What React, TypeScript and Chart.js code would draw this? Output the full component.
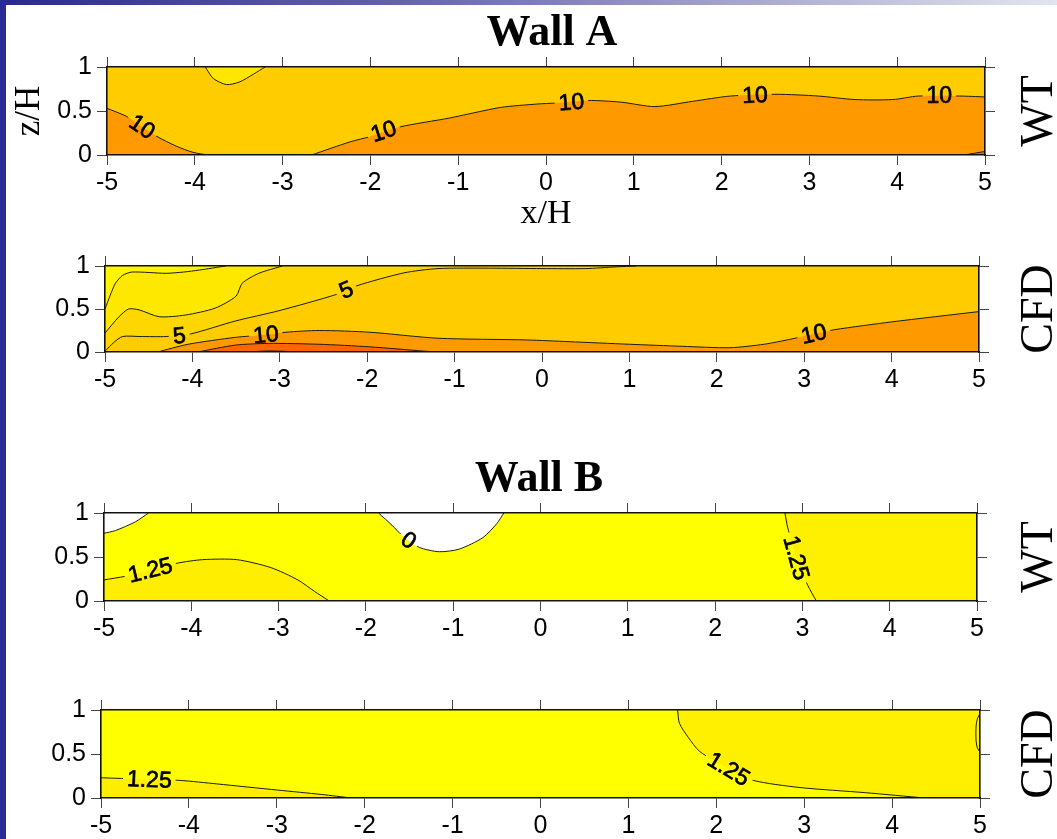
import React, { useEffect, useRef } from 'react';
import { Chart, registerables } from 'chart.js';

Chart.register(...registerables);

type XY = [number, number];
type Tag = { x: number; z: number; text: string };

const PAGE_W = 1057;
const PAGE_H = 839;

const xTickValues = [-5, -4, -3, -2, -1, 0, 1, 2, 3, 4, 5];
const zTickValues = [0, 0.5, 1];
const zTickLabels = ['0', '0.5', '1'];

// whole panel (top edge), used as the base colour layer
const fullPanel: XY[] = [[-5, 1], [5, 1]];

// ---------- Wall A, wind tunnel ----------
const aWtLeft10: XY[] = [[-5, 0.53], [-4.78, 0.44], [-4.6, 0.32], [-4.43, 0.21], [-4.21, 0.1], [-4.02, 0.03], [-3.85, 0]];
const aWtRight10: XY[] = [
  [-2.67, 0], [-2.23, 0.15], [-2.0, 0.21], [-1.66, 0.32], [-1.1, 0.42], [-0.52, 0.54], [-0.09, 0.58],
  [0.1, 0.59], [0.48, 0.62], [0.86, 0.6], [1.24, 0.55], [1.67, 0.61], [2.1, 0.67], [2.62, 0.69],
  [3.1, 0.67], [3.52, 0.63], [3.95, 0.63], [4.24, 0.67], [4.71, 0.67], [5, 0.66],
];
const aWtPatch: XY[] = [[-3.88, 1], [-3.79, 0.87], [-3.64, 0.8], [-3.49, 0.83], [-3.33, 0.92], [-3.2, 1]];
const aWtCorner: XY[] = [[4.76, 0], [5, 0.04]];
const aWtLeftTags: Tag[] = [{ x: -4.6, z: 0.32, text: '10' }];
const aWtRightTags: Tag[] = [
  { x: -1.85, z: 0.27, text: '10' },
  { x: 0.29, z: 0.6, text: '10' },
  { x: 2.38, z: 0.68, text: '10' },
  { x: 4.48, z: 0.67, text: '10' },
];

// ---------- Wall A, CFD ----------
const aCfdA: XY[] = [[-5, 0.5], [-4.94, 0.66], [-4.88, 0.8], [-4.8, 0.89], [-4.69, 0.93], [-4.3, 0.915], [-4.1, 0.93], [-3.92, 0.953], [-3.62, 1]];
const aCfdB: XY[] = [[-5, 0.22], [-4.84, 0.41], [-4.73, 0.5], [-4.61, 0.49], [-4.38, 0.41], [-4.08, 0.43], [-3.74, 0.51], [-3.5, 0.65], [-3.43, 0.8], [-3.24, 0.915], [-2.97, 1]];
const aCfd5: XY[] = [
  [-5, 0.01], [-4.9, 0.11], [-4.8, 0.18], [-4.6, 0.18], [-4.3, 0.18], [-4.02, 0.21], [-3.51, 0.36],
  [-3.01, 0.48], [-2.35, 0.67], [-2.12, 0.77], [-1.58, 0.92], [-1.19, 0.97], [-0.6, 0.975], [0, 0.97],
  [0.5, 0.97], [0.85, 0.99], [1.08, 1],
];
const aCfd10: XY[] = [
  [-4.4, 0], [-4.05, 0.09], [-3.51, 0.17], [-3.16, 0.2], [-2.93, 0.23], [-2.55, 0.25], [-1.97, 0.23],
  [-1.19, 0.16], [-0.17, 0.14], [0.31, 0.12], [1, 0.09], [1.61, 0.066], [2.15, 0.05], [2.54, 0.09],
  [2.85, 0.15], [3.11, 0.21], [3.35, 0.26], [4, 0.35], [5, 0.47],
];
const aCfd15: XY[] = [[-3.94, 0], [-3.51, 0.08], [-3.13, 0.1], [-2.55, 0.09], [-1.97, 0.06], [-1.35, 0.01], [-1.2, 0]];
const aCfd20: XY[] = [[-3.4, 0], [-3.1, 0.012], [-2.75, 0]];
const aCfd5Tags: Tag[] = [{ x: -4.15, z: 0.19, text: '5' }, { x: -2.24, z: 0.72, text: '5' }];
const aCfd10Tags: Tag[] = [{ x: -3.16, z: 0.2, text: '10' }, { x: 3.11, z: 0.21, text: '10' }];

// ---------- Wall B, wind tunnel ----------
const bWtCorner0: XY[] = [[-5, 0.77], [-4.87, 0.8], [-4.64, 0.9], [-4.49, 1]];
const bWtBowl0: XY[] = [[-1.855, 1], [-1.7, 0.86], [-1.58, 0.74], [-1.39, 0.61], [-1.16, 0.56], [-0.93, 0.59], [-0.66, 0.72], [-0.5, 0.88], [-0.42, 1]];
const bWtLeft125: XY[] = [[-5, 0.24], [-4.76, 0.28], [-4.47, 0.35], [-4.16, 0.43], [-3.87, 0.47], [-3.48, 0.47], [-3.09, 0.38], [-2.78, 0.24], [-2.59, 0.11], [-2.42, 0]];
const bWtRight125: XY[] = [[2.8, 1], [2.83, 0.84], [2.88, 0.67], [2.93, 0.49], [3.0, 0.33], [3.06, 0.18], [3.16, 0]];
const bWtBowlTags: Tag[] = [{ x: -1.51, z: 0.69, text: '0' }];
const bWtLeftTags: Tag[] = [{ x: -4.47, z: 0.35, text: '1.25' }];
const bWtRightTags: Tag[] = [{ x: 2.93, z: 0.49, text: '1.25' }];

// ---------- Wall B, CFD ----------
const bCfdLeft125: XY[] = [[-5, 0.23], [-4.7, 0.22], [-4.45, 0.21], [-4.1, 0.2], [-3.68, 0.16], [-2.99, 0.09], [-2.49, 0.04], [-2.15, 0]];
const bCfdRight125: XY[] = [[1.56, 1], [1.58, 0.85], [1.68, 0.69], [1.81, 0.53], [2.14, 0.33], [2.42, 0.2], [2.94, 0.12], [3.7, 0.06], [4.37, 0]];
const bCfdEdge: XY[] = [[5, 0.96], [4.97, 0.9], [4.955, 0.81], [4.955, 0.66], [4.97, 0.57], [5, 0.52]];
const bCfdLeftTags: Tag[] = [{ x: -4.45, z: 0.21, text: '1.25' }];
const bCfdRightTags: Tag[] = [{ x: 2.14, z: 0.33, text: '1.25' }];

const bottomRight: XY[] = [[5, 0]];

type Layer = { pts: XY[]; color: string; to: 'origin' | 'end' };
type Contour = { pts: XY[]; tags?: Tag[] };
type Panel = {
  area: { left: number; top: number; right: number; bottom: number };
  layers: Layer[]; // painted first to last
  contours: Contour[];
  title?: string;
  titleX?: number;
  side: string;
  zTitle?: boolean;
  xTitle?: boolean;
};

const panels: Panel[] = [
  {
    area: { left: 107, top: 67, right: 985, bottom: 155 },
    layers: [
      { pts: fullPanel, color: '#FFCC00', to: 'origin' },
      { pts: aWtPatch, color: '#FFE600', to: 'end' },
      { pts: aWtLeft10, color: '#FF9900', to: 'origin' },
      { pts: aWtRight10, color: '#FF9900', to: 'origin' },
      { pts: aWtCorner, color: '#FF6600', to: 'origin' },
    ],
    contours: [
      { pts: aWtLeft10, tags: aWtLeftTags },
      { pts: aWtRight10, tags: aWtRightTags },
      { pts: aWtPatch },
      { pts: aWtCorner },
    ],
    title: 'Wall A',
    titleX: 552,
    side: 'WT',
    zTitle: true,
    xTitle: true,
  },
  {
    area: { left: 105, top: 266, right: 979, bottom: 352 },
    layers: [
      { pts: fullPanel, color: '#FFCC00', to: 'origin' },
      { pts: aCfd5, color: '#FFD700', to: 'end' },
      { pts: aCfdB, color: '#FFE800', to: 'end' },
      { pts: aCfdA, color: '#FFF500', to: 'end' },
      { pts: aCfd10, color: '#FF9900', to: 'origin' },
      { pts: aCfd15, color: '#FF6600', to: 'origin' },
      { pts: aCfd20, color: '#FF3300', to: 'origin' },
    ],
    contours: [
      { pts: aCfdA },
      { pts: aCfdB },
      { pts: aCfd5, tags: aCfd5Tags },
      { pts: aCfd10, tags: aCfd10Tags },
      { pts: aCfd15 },
      { pts: aCfd20 },
    ],
    side: 'CFD',
  },
  {
    area: { left: 104, top: 513, right: 977, bottom: 601 },
    layers: [
      { pts: fullPanel, color: '#FFFF00', to: 'origin' },
      { pts: bWtLeft125, color: '#FFEE00', to: 'origin' },
      { pts: [...bWtRight125, ...bottomRight], color: '#FFF000', to: 'end' },
      { pts: bWtCorner0, color: '#FFFFFF', to: 'end' },
      { pts: bWtBowl0, color: '#FFFFFF', to: 'end' },
    ],
    contours: [
      { pts: bWtCorner0 },
      { pts: bWtBowl0, tags: bWtBowlTags },
      { pts: bWtLeft125, tags: bWtLeftTags },
      { pts: bWtRight125, tags: bWtRightTags },
    ],
    title: 'Wall B',
    titleX: 539,
    side: 'WT',
  },
  {
    area: { left: 101, top: 710, right: 980, bottom: 798 },
    layers: [
      { pts: fullPanel, color: '#FFFF00', to: 'origin' },
      { pts: bCfdLeft125, color: '#FFEE00', to: 'origin' },
      { pts: [...bCfdRight125, ...bottomRight], color: '#FFF000', to: 'end' },
    ],
    contours: [
      { pts: bCfdLeft125, tags: bCfdLeftTags },
      { pts: bCfdRight125, tags: bCfdRightTags },
      { pts: bCfdEdge },
    ],
    side: 'CFD',
  },
];

const TAG_FONT = '23px "Liberation Sans", Arial, sans-serif';
const TENSION = 0.25;
const LEFT_AXIS_W = 70;
const RIGHT_AXIS_W = 10;
const TOP_AXIS_H = 10;
const BOTTOM_AXIS_H = 38;

const toPoints = (a: XY[]) => a.map(([x, y]) => ({ x, y }));

function tagGeometry(chart: any, ds: any, t: Tag) {
  const xs = chart.scales.x;
  const ys = chart.scales.y;
  const px = xs.getPixelForValue(t.x);
  const py = ys.getPixelForValue(t.z);
  const pts = ds.data.map((p: any) => [xs.getPixelForValue(p.x), ys.getPixelForValue(p.y)]);
  let best = Infinity;
  let angle = 0;
  for (let i = 0; i < pts.length - 1; i++) {
    const [x1, y1] = pts[i];
    const [x2, y2] = pts[i + 1];
    const dx = x2 - x1;
    const dy = y2 - y1;
    const len2 = dx * dx + dy * dy || 1;
    const u = Math.max(0, Math.min(1, ((px - x1) * dx + (py - y1) * dy) / len2));
    const cx = x1 + u * dx;
    const cy = y1 + u * dy;
    const d = (px - cx) ** 2 + (py - cy) ** 2;
    if (d < best) {
      best = d;
      angle = Math.atan2(dy, dx);
    }
  }
  if (angle > Math.PI / 2) angle -= Math.PI;
  if (angle < -Math.PI / 2) angle += Math.PI;
  return { px, py, angle };
}

// Cuts a gap in each labelled contour and writes the level value into it
const contourTags = {
  id: 'contourTags',
  beforeDatasetDraw(chart: any, args: any) {
    const ds = chart.data.datasets[args.index];
    const tags: Tag[] | undefined = ds.contourTags;
    if (!tags || !tags.length) return;
    const ctx = chart.ctx;
    ctx.save();
    ctx.font = TAG_FONT;
    ctx.beginPath();
    ctx.rect(0, 0, chart.width, chart.height);
    for (const t of tags) {
      const g = tagGeometry(chart, ds, t);
      const hw = ctx.measureText(t.text).width / 2 + 4;
      const hh = 9;
      const c = Math.cos(g.angle);
      const s = Math.sin(g.angle);
      const corners = [[-hw, -hh], [hw, -hh], [hw, hh], [-hw, hh]].map(([u, v]) => [g.px + u * c - v * s, g.py + u * s + v * c]);
      ctx.moveTo(corners[0][0], corners[0][1]);
      for (let i = 1; i < 4; i++) ctx.lineTo(corners[i][0], corners[i][1]);
      ctx.closePath();
    }
    ctx.clip('evenodd');
  },
  afterDatasetDraw(chart: any, args: any) {
    const ds = chart.data.datasets[args.index];
    if (ds.contourTags && ds.contourTags.length) chart.ctx.restore();
  },
  afterDatasetsDraw(chart: any) {
    const ctx = chart.ctx;
    for (const ds of chart.data.datasets) {
      const tags: Tag[] | undefined = ds.contourTags;
      if (!tags) continue;
      for (const t of tags) {
        const g = tagGeometry(chart, ds, t);
        ctx.save();
        ctx.translate(g.px, g.py);
        ctx.rotate(g.angle);
        ctx.font = TAG_FONT;
        ctx.fillStyle = '#000';
        ctx.strokeStyle = '#000';
        ctx.lineWidth = 0.7;
        ctx.textAlign = 'center';
        ctx.textBaseline = 'middle';
        ctx.fillText(t.text, 0, 1);
        ctx.strokeText(t.text, 0, 1);
        ctx.restore();
      }
    }
  },
};

// Panel title, right-hand row label and axis titles
const panelText = {
  id: 'panelText',
  afterDraw(chart: any, _args: any, o: any) {
    const { ctx, chartArea: a } = chart;
    const midY = (a.top + a.bottom) / 2;
    ctx.save();
    ctx.fillStyle = '#000';
    ctx.textAlign = 'center';
    ctx.textBaseline = 'alphabetic';
    if (o.title) {
      ctx.font = 'bold 44px "Liberation Serif", "Times New Roman", serif';
      ctx.fillText(o.title, o.titleX, a.top - 22);
    }
    if (o.xTitle) {
      ctx.font = '34px "Liberation Serif", "Times New Roman", serif';
      ctx.fillText('x/H', (a.left + a.right) / 2, a.bottom + 68);
    }
    const rotated = (text: string, x: number, font: string) => {
      ctx.save();
      ctx.translate(x, midY);
      ctx.rotate(-Math.PI / 2);
      ctx.font = font;
      ctx.fillText(text, 0, 0);
      ctx.restore();
    };
    if (o.zTitle) rotated('z/H', 39, '35px "Liberation Serif", "Times New Roman", serif');
    if (o.side) rotated(o.side, 1052, '46px "Liberation Serif", "Times New Roman", serif');
    ctx.restore();
  },
};

function buildConfig(p: Panel): any {
  const grid = { display: true, drawOnChartArea: false, drawTicks: true, tickLength: 10, tickColor: '#444', tickWidth: 1 };
  const border = { display: true, color: '#111', width: 1.6, z: 1 };
  const tickFont = { family: '"Liberation Sans", Arial, sans-serif', size: 25 };
  const xTicks = (s: any) => { s.ticks = xTickValues.map((v) => ({ value: v })); };
  const zTicks = (s: any) => { s.ticks = zTickValues.map((v) => ({ value: v })); };
  const zLabel = (v: number) => {
    const i = zTickValues.indexOf(v);
    return i >= 0 ? zTickLabels[i] : '';
  };

  const datasets: any[] = [];
  const n = p.layers.length;
  p.layers.forEach((l, i) => {
    datasets.push({
      data: toPoints(l.pts),
      fill: l.to,
      backgroundColor: l.color,
      borderColor: 'rgba(0,0,0,0)',
      borderWidth: 0,
      pointRadius: 0,
      tension: TENSION,
      order: 10 + (n - i),
    });
  });
  p.contours.forEach((c) => {
    datasets.push({
      data: toPoints(c.pts),
      fill: false,
      borderColor: '#1c1c1c',
      borderWidth: 1,
      pointRadius: 0,
      tension: TENSION,
      order: 0,
      contourTags: c.tags || [],
    });
  });

  const a = p.area;
  return {
    type: 'line',
    data: { datasets },
    plugins: [contourTags, panelText],
    options: {
      responsive: false,
      animation: false,
      events: [],
      layout: {
        padding: {
          left: a.left - LEFT_AXIS_W,
          right: PAGE_W - a.right - RIGHT_AXIS_W,
          top: a.top - TOP_AXIS_H,
          bottom: PAGE_H - a.bottom - BOTTOM_AXIS_H,
        },
      },
      plugins: {
        legend: { display: false },
        tooltip: { enabled: false },
        title: { display: false },
        panelText: { title: p.title, titleX: p.titleX, side: p.side, zTitle: p.zTitle, xTitle: p.xTitle },
      },
      scales: {
        x: {
          type: 'linear', axis: 'x', position: 'bottom', min: -5, max: 5,
          afterBuildTicks: xTicks,
          ticks: { font: tickFont, color: '#000', padding: 3, maxRotation: 0, autoSkip: false },
          grid, border,
          afterFit: (s: any) => { s.height = BOTTOM_AXIS_H; },
        },
        xTop: {
          type: 'linear', axis: 'x', position: 'top', min: -5, max: 5,
          afterBuildTicks: xTicks,
          ticks: { display: false },
          grid, border,
          afterFit: (s: any) => { s.height = TOP_AXIS_H; },
        },
        y: {
          type: 'linear', axis: 'y', position: 'left', min: 0, max: 1,
          afterBuildTicks: zTicks,
          ticks: { font: tickFont, color: '#000', padding: 5, callback: zLabel },
          grid, border,
          afterFit: (s: any) => { s.width = LEFT_AXIS_W; },
        },
        yRight: {
          type: 'linear', axis: 'y', position: 'right', min: 0, max: 1,
          afterBuildTicks: zTicks,
          ticks: { display: false },
          grid, border,
          afterFit: (s: any) => { s.width = RIGHT_AXIS_W; },
        },
      },
    },
  };
}

function PanelChart({ panel }: { panel: Panel }) {
  const ref = useRef<HTMLCanvasElement>(null);
  useEffect(() => {
    const chart = new Chart(ref.current as HTMLCanvasElement, buildConfig(panel));
    return () => chart.destroy();
  }, [panel]);
  return (
    <canvas
      ref={ref}
      width={PAGE_W}
      height={PAGE_H}
      style={{ position: 'absolute', left: 0, top: 0, width: PAGE_W, height: PAGE_H }}
    />
  );
}

export default function App() {
  return (
    <div
      style={{
        position: 'fixed',
        left: 0,
        top: 0,
        width: PAGE_W,
        height: PAGE_H,
        background: '#ffffff',
        overflow: 'hidden',
      }}
    >
      <div
        style={{
          position: 'absolute',
          left: 0,
          top: 0,
          width: PAGE_W,
          height: 5,
          background: 'linear-gradient(to right, #2A2A8E, #6464A8 38%, #E4E4F0)',
        }}
      />
      <div style={{ position: 'absolute', left: 0, top: 0, width: 6, height: PAGE_H, background: '#2B2B94' }} />
      {panels.map((p, i) => (
        <PanelChart key={i} panel={p} />
      ))}
    </div>
  );
}
